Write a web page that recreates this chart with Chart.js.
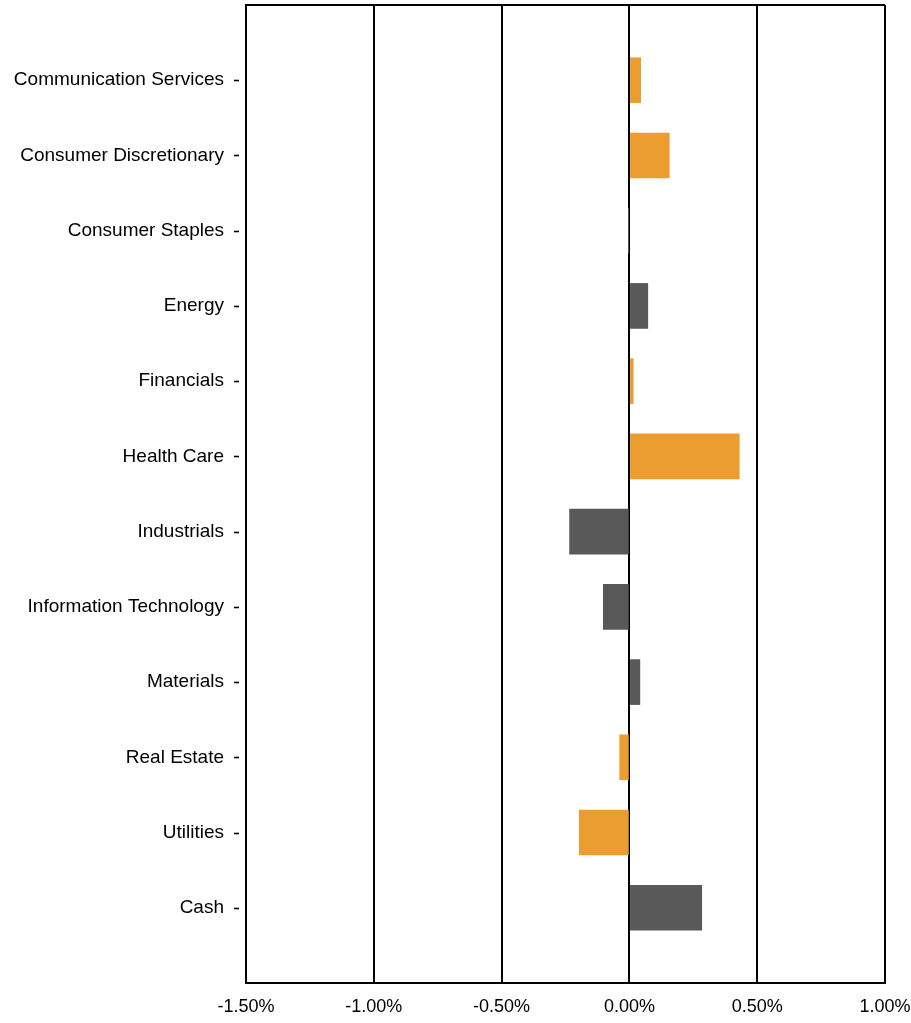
<!DOCTYPE html>
<html>
<head>
<meta charset="utf-8">
<script src="https://cdn.jsdelivr.net/npm/chart.js@4/dist/chart.umd.min.js"></script>
<style>
  html, body { margin: 0; padding: 0; background: #fff; }
  #wrap { width: 911px; height: 1023px; }
</style>
</head>
<body>
<div id="wrap"><canvas id="c" width="911" height="1023"></canvas></div>
<script>
const categories = [
  'Communication Services', 'Consumer Discretionary', 'Consumer Staples', 'Energy',
  'Financials', 'Health Care', 'Industrials', 'Information Technology',
  'Materials', 'Real Estate', 'Utilities', 'Cash'
];
const values = [0.044, 0.156, -0.003, 0.072, 0.015, 0.43, -0.234, -0.102, 0.041, -0.038, -0.196, 0.283];
const highlighted = [true, true, false, false, true, true, false, false, false, true, true, false];
const xTicks = [-1.5, -1.0, -0.5, 0.0, 0.5, 1.0];

const ORANGE = '#EC9D2F';
const GRAY = '#595959';

const labels = [''].concat(categories, ['']);
const data = [null].concat(values, [null]);
const colors = ['#000'].concat(highlighted.map(h => h ? ORANGE : GRAY), ['#000']);

const dashPlugin = {
  id: 'dashes',
  afterDraw(chart) {
    const y = chart.scales.y;
    const ctx = chart.ctx;
    ctx.save();
    ctx.strokeStyle = '#000';
    ctx.lineWidth = 1.6;
    labels.forEach((l, i) => {
      if (!l) return;
      const py = Math.round(y.getPixelForTick(i)) + 0.5;
      ctx.beginPath();
      ctx.moveTo(chart.chartArea.left - 12, py);
      ctx.lineTo(chart.chartArea.left - 7, py);
      ctx.stroke();
    });
    ctx.restore();
  }
};

new Chart(document.getElementById('c'), {
  type: 'bar',
  data: {
    labels: labels,
    datasets: [{
      data: data,
      backgroundColor: colors,
      borderWidth: 0,
      barThickness: 45
    }]
  },
  options: {
    indexAxis: 'y',
    responsive: false,
    animation: false,
    layout: { padding: { top: 5, right: 26, left: 0, bottom: 0 } },
    plugins: { legend: { display: false }, tooltip: { enabled: false } },
    scales: {
      x: {
        type: 'linear',
        min: xTicks[0],
        max: xTicks[xTicks.length - 1],
        afterBuildTicks(scale) { scale.ticks = xTicks.map(v => ({ value: v })); },
        afterFit(scale) { scale.height = 40; scale.paddingLeft = 0; scale.paddingRight = 0; },
        ticks: {
          callback: v => v.toFixed(2) + '%',
          color: '#000',
          padding: 13,
          maxRotation: 0,
          font: { family: "'Liberation Sans', Arial, sans-serif", size: 18 }
        },
        grid: { color: '#000', lineWidth: 2, drawTicks: false },
        border: { color: '#000', width: 2 }
      },
      y: {
        type: 'category',
        offset: false,
        afterFit(scale) { scale.width = 246; scale.paddingTop = 0; scale.paddingBottom = 0; },
        ticks: {
          autoSkip: false,
          color: '#000',
          padding: 22,
          font: { family: "'Liberation Sans', Arial, sans-serif", size: 19 }
        },
        grid: {
          offset: false,
          drawTicks: false,
          lineWidth: 2,
          color: ctx => (ctx.index === 0 || ctx.index === labels.length - 1) ? '#000' : 'rgba(0,0,0,0)'
        },
        border: { color: '#000', width: 2 }
      }
    }
  },
  plugins: [dashPlugin]
});
</script>
</body>
</html>
